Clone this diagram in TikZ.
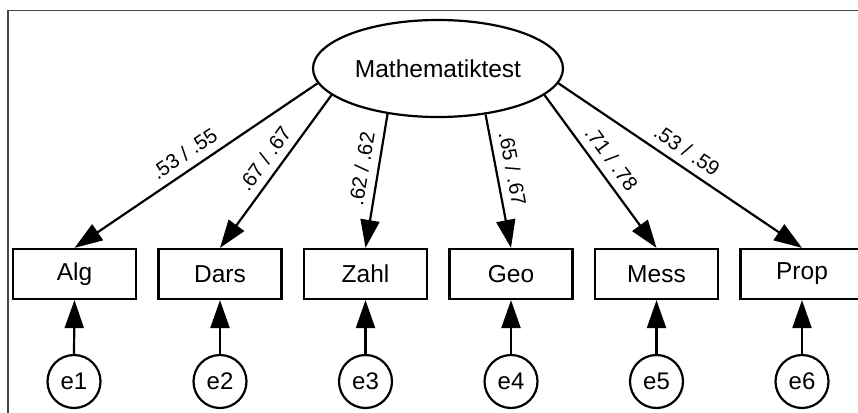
\documentclass[tikz,border=0pt]{standalone}
\usepackage{fontspec}
\setmainfont{Liberation Sans}
\usetikzlibrary{arrows.meta,shapes.geometric}

\tikzset{
  lw/.style={line width=2.2pt},
  latent/.style={ellipse, draw, lw, minimum width=250pt, minimum height=97pt, inner sep=0pt,
    font=\fontsize{24.5pt}{29pt}\selectfont},
  observed/.style={rectangle, draw, lw, minimum width=123pt, minimum height=50pt, inner sep=0pt,
    font=\fontsize{24.5pt}{29pt}\selectfont},
  errorvar/.style={circle, draw, lw, minimum size=53pt, inner sep=0pt,
    font=\fontsize{24pt}{29pt}\selectfont},
  path arrow/.style={lw, -{Triangle[length=28pt,width=19pt]}},
  loading/.style={sloped, above=7pt, inner sep=1pt, font=\fontsize{20.5pt}{24pt}\selectfont},
  frame/.style={draw=black!72, line width=1.7pt}
}

\begin{document}
\begin{tikzpicture}[x=1pt, y=-1pt]
  \useasboundingbox (0,0) rectangle (858,412);

  % surrounding frame (runs past the page on the right and bottom)
  \draw[frame] (8,420) |- (866,10.5);

  % latent factor
  \node[latent] (M) at (438,68.5) {Mathematiktest};

  % indicators
  \node[observed] (alg)  at (74.5,274)  {Alg};
  \node[observed] (dars) at (220,274)   {Dars};
  \node[observed] (zahl) at (365.5,274) {Zahl};
  \node[observed] (geo)  at (511,274)   {Geo};
  \node[observed] (mess) at (656.5,274) {Mess};
  \node[observed] (prop) at (802,274)   {Prop};

  % residuals
  \node[errorvar] (e1) at (74,381.5)  {e1};
  \node[errorvar] (e2) at (220,381.5) {e2};
  \node[errorvar] (e3) at (365.5,381.5) {e3};
  \node[errorvar] (e4) at (511,381.5) {e4};
  \node[errorvar] (e5) at (656.5,381.5) {e5};
  \node[errorvar] (e6) at (802,381.5) {e6};

  % factor loadings
  \draw[path arrow] (M.187)   -- node[loading, pos=0.51] {.53 / .55} (alg.north);
  \draw[path arrow] (M.194)   -- node[loading, pos=0.48] {.67 / .67} (dars.north);
  \draw[path arrow] (M.222.7) -- node[loading, pos=0.43] {.62 / .62} (zahl.north);
  \draw[path arrow] (M.316.8) -- node[loading, pos=0.43] {.65 / .67} (geo.north);
  \draw[path arrow] (M.346.6) -- node[loading, pos=0.48] {.71 / .78} (mess.north);
  \draw[path arrow] (M.353.4) -- node[loading, pos=0.49] {.53 / .59} (prop.north);

  % residual paths
  \foreach \e/\v in {e1/alg, e2/dars, e3/zahl, e4/geo, e5/mess, e6/prop}
    \draw[path arrow] (\e.north) -- (\v.south);
\end{tikzpicture}
\end{document}
